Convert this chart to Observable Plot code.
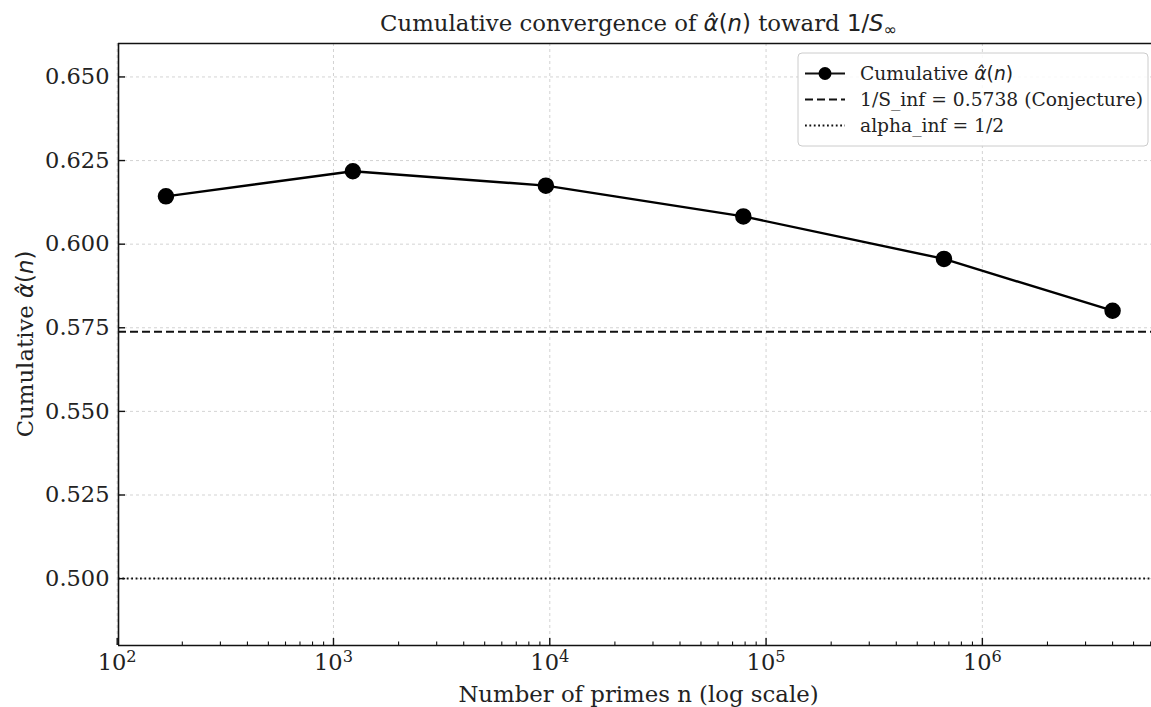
<!DOCTYPE html>
<html>
<head>
<meta charset="utf-8">
<script src="https://cdn.jsdelivr.net/npm/d3@7"></script>
<script src="https://cdn.jsdelivr.net/npm/@observablehq/plot@0.6"></script>
<style>
  html, body { margin: 0; padding: 0; background: white; }
  #chart svg { display: block; }
</style>
</head>
<body>
<div id="chart"></div>
<script>
// ---- data ----
const nPrimes = [168, 1229, 9592, 78498, 664579, 4000000];
const alphaHat = [0.6143, 0.6218, 0.6175, 0.6083, 0.5956, 0.5801];
const conjecture = [0.5738];
const alphaInf = [0.5];
const yTicks = [0.500, 0.525, 0.550, 0.575, 0.600, 0.625, 0.650];
const yTickLabels = ["0.500", "0.525", "0.550", "0.575", "0.600", "0.625", "0.650"];
const xMajor = [1e2, 1e3, 1e4, 1e5, 1e6];
const xTickExponents = ["2", "3", "4", "5", "6"];
const xLim = [Math.pow(10, 2.006), Math.pow(10, 6.782)];
const yLim = [0.48, 0.66];

const data = nPrimes.map((n, i) => ({n, a: alphaHat[i]}));
const xMinor = [];
for (let k = 2; k <= 6; k++) for (let m = 2; m <= 9; m++) {
  const v = m * Math.pow(10, k);
  if (v >= xLim[0] && v <= xLim[1]) xMinor.push(v);
}

const W = 1151, H = 707, mL = 118, mR = 0, mT = 43, mB = 62;
const plotW = W - mL - mR, plotH = H - mT - mB;
const serif = "'DejaVu Serif', serif";
const sans = "'DejaVu Sans', sans-serif";

const chart = Plot.plot({
  width: W, height: H,
  marginLeft: mL, marginRight: mR, marginTop: mT, marginBottom: mB,
  x: {type: "log", domain: xLim, axis: null},
  y: {domain: yLim, axis: null},
  style: {fontFamily: serif, fontSize: "22.5px", background: "white", color: "#222", overflow: "visible"},
  marks: [
    Plot.gridX(xMajor, {stroke: "#b0b0b0", strokeOpacity: 0.7, strokeDasharray: "3,3", strokeWidth: 0.8}),
    Plot.gridY(yTicks, {stroke: "#b0b0b0", strokeOpacity: 0.7, strokeDasharray: "3,3", strokeWidth: 0.8}),
    Plot.ruleY(conjecture, {stroke: "#111", strokeWidth: 2, strokeDasharray: "8,4"}),
    Plot.ruleY(alphaInf, {stroke: "#111", strokeWidth: 2, strokeDasharray: "1.8,2.6"}),
    Plot.line(data, {x: "n", y: "a", stroke: "black", strokeWidth: 2.4}),
    Plot.dot(data, {x: "n", y: "a", r: 7.5, fill: "black", stroke: "black"}),
    // spines
    Plot.ruleY(yLim, {stroke: "#111", strokeWidth: 1.6}),
    Plot.ruleX([xLim[0]], {stroke: "#111", strokeWidth: 1.6}),
    // inward ticks
    Plot.tickX(xMajor, {x: d => d, insetTop: plotH - 7, stroke: "#111", strokeWidth: 1.4}),
    Plot.tickX(xMinor, {x: d => d, insetTop: plotH - 3.5, stroke: "#111", strokeWidth: 1.1}),
    Plot.tickY(yTicks, {y: d => d, insetRight: plotW - 7, stroke: "#111", strokeWidth: 1.4}),
    // tick labels
    Plot.axisX(xMajor, {tickSize: 0, tickPadding: 9, tickFormat: d => "10^" + xTickExponents[xMajor.indexOf(d)], label: null, fill: "#222"}),
    Plot.axisY(yTicks, {tickSize: 0, tickPadding: 9, tickFormat: d => yTickLabels[yTicks.indexOf(d)], label: null, fill: "#222"})
  ]
});
document.getElementById("chart").appendChild(chart);

const svg = d3.select(chart);

// render x tick labels as 10 with a raised exponent
svg.selectAll("text").each(function () {
  const el = d3.select(this);
  const s = el.text();
  const m = /^10\^(\d)$/.exec(s);
  if (!m) return;
  el.text(null);
  el.append("tspan").text("10");
  el.append("tspan").attr("font-size", "0.72em").attr("dy", "-0.55em").text(m[1]);
});

// ---- titles and legend (math via tspans) ----
const cx = mL + (1159 - mL) / 2;

function alphaHatTspans(t) {
  t.append("tspan").attr("font-family", sans).attr("font-style", "italic").text("\u03B1\u0302");
  t.append("tspan").attr("font-family", sans).text("(");
  t.append("tspan").attr("font-family", sans).attr("font-style", "italic").text("n");
  t.append("tspan").attr("font-family", sans).text(")");
}

const title = svg.append("text")
  .attr("x", cx).attr("y", 31).attr("text-anchor", "middle")
  .attr("font-family", serif).attr("font-size", 22.8).attr("fill", "#222");
title.append("tspan").text("Cumulative convergence of ");
alphaHatTspans(title);
title.append("tspan").text(" toward ");
title.append("tspan").attr("font-family", sans).text("1/");
title.append("tspan").attr("font-family", sans).attr("font-style", "italic").text("S");
title.append("tspan").attr("font-family", sans).attr("font-size", 16).attr("dy", 4).text("\u221E");

svg.append("text")
  .attr("x", cx).attr("y", 702).attr("text-anchor", "middle")
  .attr("font-family", serif).attr("font-size", 22.8).attr("fill", "#222")
  .text("Number of primes n (log scale)");

const ylab = svg.append("text")
  .attr("transform", `translate(33,${mT + plotH / 2}) rotate(-90)`)
  .attr("text-anchor", "middle")
  .attr("font-family", serif).attr("font-size", 22.8).attr("fill", "#222");
ylab.append("tspan").text("Cumulative ");
alphaHatTspans(ylab);

// legend
const lg = svg.append("g");
lg.append("rect").attr("x", 798).attr("y", 53).attr("width", 350).attr("height", 93)
  .attr("rx", 4).attr("fill", "white").attr("fill-opacity", 0.85)
  .attr("stroke", "#cccccc").attr("stroke-width", 1);
const entries = [
  {y: 73.5, dash: null, marker: true, label: "Cumulative "},
  {y: 99.5, dash: "8,4", marker: false, label: "1/S_inf = 0.5738 (Conjecture)"},
  {y: 125.5, dash: "1.8,2.6", marker: false, label: "alpha_inf = 1/2"}
];
entries.forEach((e, i) => {
  lg.append("line").attr("x1", 805).attr("x2", 845).attr("y1", e.y).attr("y2", e.y)
    .attr("stroke", "#111").attr("stroke-width", 2).attr("stroke-dasharray", e.dash);
  if (e.marker) lg.append("circle").attr("cx", 825).attr("cy", e.y).attr("r", 6.5).attr("fill", "black");
  const t = lg.append("text").attr("x", 860).attr("y", e.y).attr("dy", "0.35em")
    .attr("text-anchor", "start")
    .attr("font-family", serif).attr("font-size", 18.7).attr("fill", "#222");
  t.append("tspan").text(e.label);
  if (i === 0) alphaHatTspans(t);
});
</script>
</body>
</html>
